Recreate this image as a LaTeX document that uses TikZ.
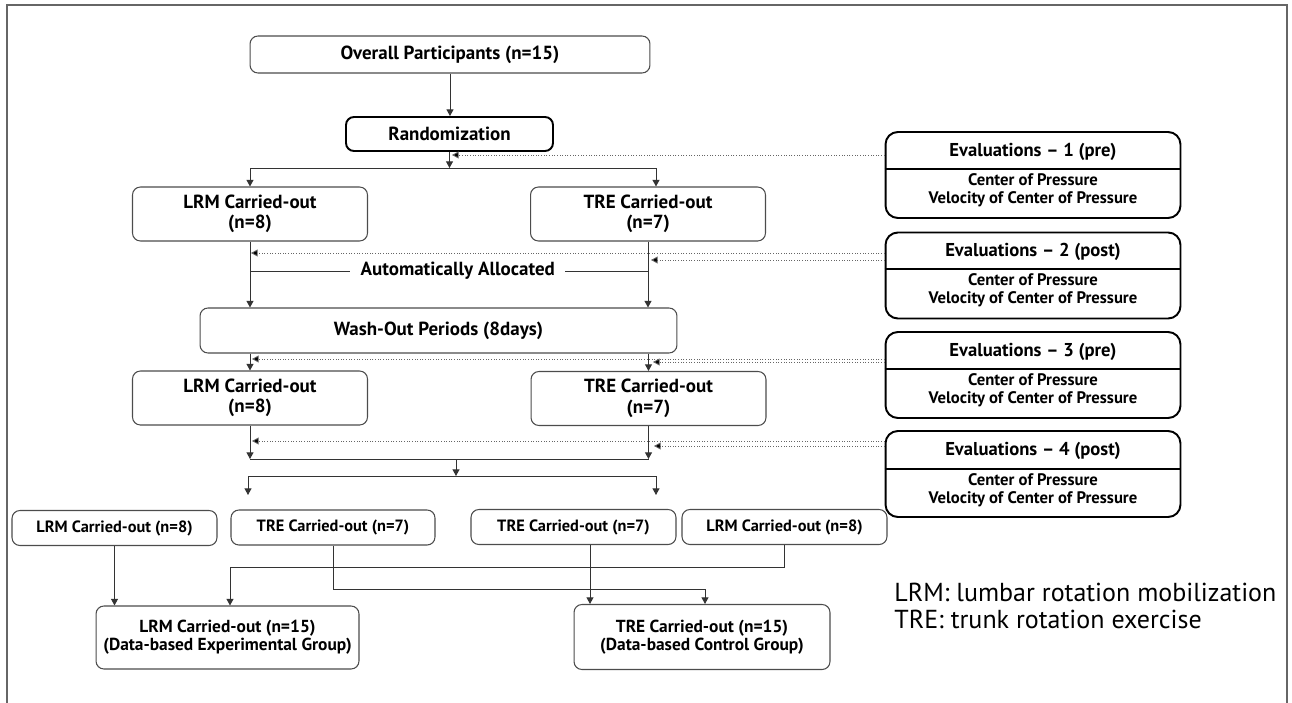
\documentclass[tikz,border=0pt]{standalone}
\usepackage{fontspec}
\setmainfont{PT Sans}
\usepackage{tikz}
\usetikzlibrary{arrows.meta,positioning,calc}

\begin{document}
\begin{tikzpicture}[
  x=0.02cm, y=-0.02cm,
  box/.style={rectangle, draw=black!70, line width=0.6pt, rounded corners=4.5pt,
    align=center, inner sep=1pt, font=\fontsize{10.8}{11.6}\selectfont\bfseries},
  smallbox/.style={box, font=\fontsize{9.3}{10.5}\selectfont\bfseries},
  groupbox/.style={box, font=\fontsize{9.9}{10.2}\selectfont\bfseries},
  keybox/.style={box, draw=black, line width=1.1pt},
  evbox/.style={rectangle, draw=black, line width=1.1pt, rounded corners=7pt,
    minimum width=5.9cm, minimum height=1.72cm},
  evhead/.style={font=\fontsize{10.6}{12}\selectfont\bfseries, inner sep=0pt},
  evbody/.style={align=center, inner sep=0pt, font=\fontsize{9.5}{10.3}\selectfont\bfseries},
  legend/.style={align=left, inner sep=0pt, font=\fontsize{14.8}{15.4}\selectfont},
  line/.style={draw=black!80, line width=0.55pt},
  arr/.style={line, -{Triangle[length=3.8pt,width=4pt]}},
  evarrow/.style={draw=black!60, line width=0.5pt, densely dotted,
    -{Triangle[length=3.8pt,width=4pt,fill=black]}},
  frame/.style={draw=black!60, line width=1.1pt}
]
\useasboundingbox (0,0) rectangle (1292,703);
\draw[frame] (7,703) -- (7,5) -- (1287,5) -- (1287,703);

% first period
\node[box, minimum width=8cm, minimum height=0.74cm] (ovr) at (450,54.5) {Overall Participants (n=15)};
\node[keybox, minimum width=4.14cm, minimum height=0.68cm] (rand) at (449.5,134) {Randomization};
\node[box, minimum width=4.7cm, minimum height=1.08cm] (lrmA) at (250,214) {LRM Carried-out\\(n=8)};
\node[box, minimum width=4.7cm, minimum height=1.08cm] (treA) at (648,214) {TRE Carried-out\\(n=7)};
\node[box, minimum width=9.54cm, minimum height=0.9cm] (wash) at (438.5,330.5) {Wash-Out Periods (8days)};

% second period
\node[box, minimum width=4.7cm, minimum height=1.08cm] (lrmB) at (250,398) {LRM Carried-out\\(n=8)};
\node[box, minimum width=4.7cm, minimum height=1.08cm] (treB) at (648.5,398.5) {TRE Carried-out\\(n=7)};

% pooled data
\node[smallbox, minimum width=4.1cm, minimum height=0.7cm] (b1) at (114.5,528) {LRM Carried-out (n=8)};
\node[smallbox, minimum width=4.08cm, minimum height=0.7cm] (b2) at (333,527.5) {TRE Carried-out (n=7)};
\node[smallbox, minimum width=4.1cm, minimum height=0.7cm] (b3) at (573.5,527) {TRE Carried-out (n=7)};
\node[smallbox, minimum width=4.1cm, minimum height=0.7cm] (b4) at (784.5,527) {LRM Carried-out (n=8)};
\node[groupbox, minimum width=5.26cm, minimum height=1.26cm] (finL) at (227.5,637.5) {LRM Carried-out (n=15)\\(Data-based Experimental Group)};
\node[groupbox, minimum width=5.12cm, minimum height=1.3cm] (finR) at (702,637) {TRE Carried-out (n=15)\\(Data-based Control Group)};

% evaluations
\node[evbox] (ev1) at (1033,175) {};
\node[evhead] (ev1h) at (1033,152) {Evaluations -- 1 (pre)};
\node[evbody] (ev1b) at (1033,190) {Center of Pressure\\Velocity of Center of Pressure};
\draw[line width=0.8pt] (ev1.west |- 0,169) -- (ev1.east |- 0,169);
\node[evbox] (ev2) at (1033,275.5) {};
\node[evhead] (ev2h) at (1033,252) {Evaluations -- 2 (post)};
\node[evbody] (ev2b) at (1033,290) {Center of Pressure\\Velocity of Center of Pressure};
\draw[line width=0.8pt] (ev2.west |- 0,269) -- (ev2.east |- 0,269);
\node[evbox] (ev3) at (1033,375) {};
\node[evhead] (ev3h) at (1033,352) {Evaluations -- 3 (pre)};
\node[evbody] (ev3b) at (1033,390) {Center of Pressure\\Velocity of Center of Pressure};
\draw[line width=0.8pt] (ev3.west |- 0,369) -- (ev3.east |- 0,369);
\node[evbox] (ev4) at (1033,474) {};
\node[evhead] (ev4h) at (1033,451) {Evaluations -- 4 (post)};
\node[evbody] (ev4b) at (1033,490) {Center of Pressure\\Velocity of Center of Pressure};
\draw[line width=0.8pt] (ev4.west |- 0,469) -- (ev4.east |- 0,469);

\node[legend, anchor=north west] (lgd) at (894,583) {LRM: lumbar rotation mobilization\\TRE: trunk rotation exercise};

% flow
\coordinate (s1) at (450,168);
\coordinate (s1l) at (250,168);
\coordinate (s1r) at (656,168);
\draw[arr] (ovr) -- (ovr |- rand.north);
\draw[arr] (rand.south) -- (rand.south |- s1);
\draw[line] (s1l) -- (s1r);
\draw[arr] (s1l) -- (s1l |- lrmA.north);
\draw[arr] (s1r) -- (s1r |- treA.north);

\draw[line] (lrmA.south |- 0,271) -- node[pos=0.522, fill=white, inner xsep=6pt, font=\fontsize{10.8}{11.6}\selectfont\bfseries] (auto) {Automatically Allocated} (treA.south |- 0,271);
\draw[arr] (lrmA.south) -- (lrmA.south |- wash.north);
\draw[arr] (treA.south) -- (treA.south |- wash.north);
\draw[arr] (wash.south -| lrmB) -- (lrmB.north);
\draw[arr] (wash.south -| treB) -- (treB.north);

\coordinate (j2) at (456,459);
\coordinate (j3) at (456,476);
\coordinate (s3l) at (248,476);
\coordinate (s3r) at (656,476);
\coordinate (o3l) at (248,495);
\coordinate (o3r) at (656,495);
\draw[arr] (lrmB.south) -- (lrmB.south |- j2);
\draw[arr] (treB.south) -- (treB.south |- j2);
\draw[line] (lrmB.south |- j2) -- (treB.south |- j2);
\draw[arr] (j2) -- (j3);
\draw[line] (s3l) -- (s3r);
\draw[arr] (s3l) -- (o3l);
\draw[arr] (s3r) -- (o3r);

\coordinate (k1) at (230,567);
\coordinate (k2) at (705,589);
\coordinate (k3) at (590,560);
\draw[arr] (b1.south) -- (b1.south |- finL.north);
\draw[arr] (b4.south) |- (k1) -- (k1 |- finL.north);
\draw[arr] (b2.south) |- (k2) -- (k2 |- finR.north);
\draw[arr] (b3.south -| k3) -- (k3 |- finR.north);

% evaluation inputs
\coordinate (in1) at (452,155);
\coordinate (in2a) at (251,253);
\coordinate (in2b) at (651,260);
\coordinate (in3a) at (252,359);
\coordinate (in3b) at (653,362);
\coordinate (in4a) at (252,441);
\coordinate (in4b) at (654,446);
\draw[evarrow] (ev1.west |- in1) -- (in1);
\draw[evarrow] (ev2.west |- in2a) -- (in2a);
\draw[evarrow] (ev2.west |- in2b) -- (in2b);
\draw[evarrow] (ev3.west |- in3a) -- (in3a);
\draw[evarrow] (ev3.west |- in3b) -- (in3b);
\draw[evarrow] (ev4.west |- in4a) -- (in4a);
\draw[evarrow] (ev4.west |- in4b) -- (in4b);
\end{tikzpicture}
\end{document}
